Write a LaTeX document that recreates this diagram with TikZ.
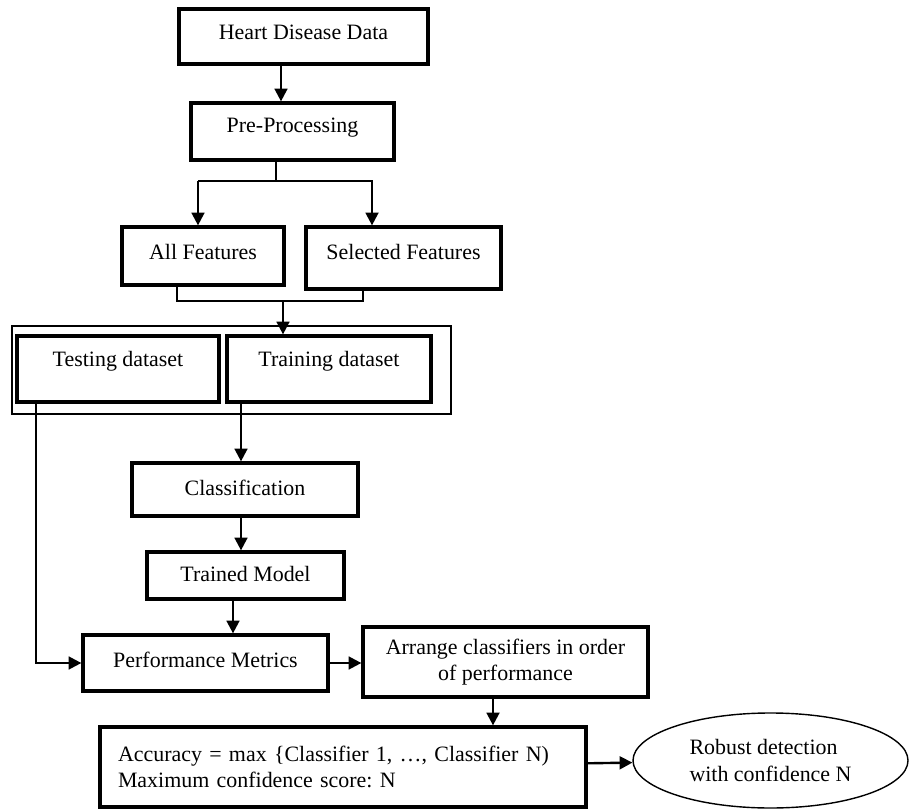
\documentclass[tikz,border=0pt]{standalone}
\usepackage{fontspec}
\setmainfont{Liberation Serif}
\usetikzlibrary{arrows.meta,shapes.geometric}
\frenchspacing

\begin{document}
\begin{tikzpicture}[
		font=\fontsize{15.6}{19}\selectfont,
		rectnode/.style={rectangle, draw=black, line width=2.3pt, inner sep=0pt, text height=0.4cm, text depth=0.12cm},
		textnode/.style={rectangle, draw=black, line width=2.3pt, inner sep=0pt},
		ovalnode/.style={ellipse, draw=black, line width=1pt, inner sep=0pt, align=left},
		link/.style={line width=1.7pt},
		arr/.style={line width=1.7pt, -{Triangle[length=0.32cm,width=0.32cm]}},
	]
		\useasboundingbox (0,0) rectangle (22.75,-20.275);

		% nodes
		\node[rectnode, minimum width=6.225cm, minimum height=1.375cm, text depth=0.27cm] (data) at (7.5875,-0.9125) {Heart Disease Data};
		\node[rectnode, minimum width=5.075cm, minimum height=1.425cm, text depth=0.34cm] (pre) at (7.3125,-3.2875) {Pre-Processing};
		\node[rectnode, minimum width=4.05cm, minimum height=1.45cm, text depth=0.24cm] (all) at (5.075,-6.4) {All Features};
		\node[rectnode, minimum width=4.875cm, minimum height=1.55cm, text depth=0.34cm] (sel) at (10.0875,-6.45) {Selected Features};
		\node[draw=black, line width=1pt, inner sep=0pt, minimum width=10.975cm, minimum height=2.2cm] (datasets) at (5.7875,-9.25) {};
		\node[rectnode, minimum width=5.05cm, minimum height=1.65cm, text depth=0.52cm] (test) at (2.95,-9.225) {Testing dataset};
		\node[rectnode, minimum width=5.1cm, minimum height=1.65cm, text depth=0.52cm] (train) at (8.225,-9.225) {Training dataset};
		\node[rectnode, minimum width=5.65cm, minimum height=1.325cm] (cls) at (6.125,-12.2375) {Classification};
		\node[rectnode, minimum width=4.925cm, minimum height=1.175cm] (model) at (6.1375,-14.3875) {Trained Model};
		\node[rectnode, minimum width=6.125cm, minimum height=1.4cm, text depth=0.2cm] (perf) at (5.1375,-16.575) {Performance Metrics};
		\node[textnode, minimum width=7.125cm, minimum height=1.75cm, align=center] (arrange) at (12.6375,-16.55) {Arrange classifiers in order\\of performance};
		\node[textnode, minimum width=12.15cm, minimum height=2cm, text width=11.25cm, align=left] (acc) at (8.575,-19.175) {Accuracy = max \{Classifier 1, …, Classifier N)\\Maximum confidence score: N\\[2pt]};
		\node[ovalnode, minimum width=6.875cm, minimum height=2.375cm] (robust) at (19.2625,-19.0125) {Robust detection\\with confidence N};

		% branch points
		\coordinate (c1) at (7.025,0);
		\coordinate (fork) at (6.9,-4.525);
		\coordinate (forkl) at (4.95,-4.525);
		\coordinate (forkr) at (9.3,-4.525);
		\coordinate (joinl) at (4.425,-7.525);
		\coordinate (joinr) at (9.075,-7.525);
		\coordinate (join) at (7.075,-7.525);
		\coordinate (c2) at (0.9,0);
		\coordinate (c3) at (6.025,0);
		\coordinate (c4) at (5.825,0);
		\coordinate (c5) at (12.325,0);

		% lines
		\draw[arr] (data.south -| c1) -- (pre.north -| c1);
		\draw[link] (pre.south -| fork) -- (fork);
		\draw[arr] (forkl) -- (forkl |- all.north);
		\draw[arr] (forkl) -- (forkr) -- (forkr |- sel.north);
		\draw[link] (all.south -| joinl) -- (joinl) -- (joinr) -- (sel.south -| joinr);
		\draw[arr] (join) -- (train.north -| join);
		\draw[arr] (test.south -| c2) |- (perf.west);
		\draw[arr] (train.south -| c3) -- (cls.north -| c3);
		\draw[arr] (cls.south -| c3) -- (model.north -| c3);
		\draw[arr] (model.south -| c4) -- (perf.north -| c4);
		\draw[arr] (perf.east) -- (perf.east -| arrange.west);
		\draw[arr] (arrange.south -| c5) -- (acc.north -| c5);
		\draw[arr] (acc) -- (robust);
	\end{tikzpicture}
\end{document}
